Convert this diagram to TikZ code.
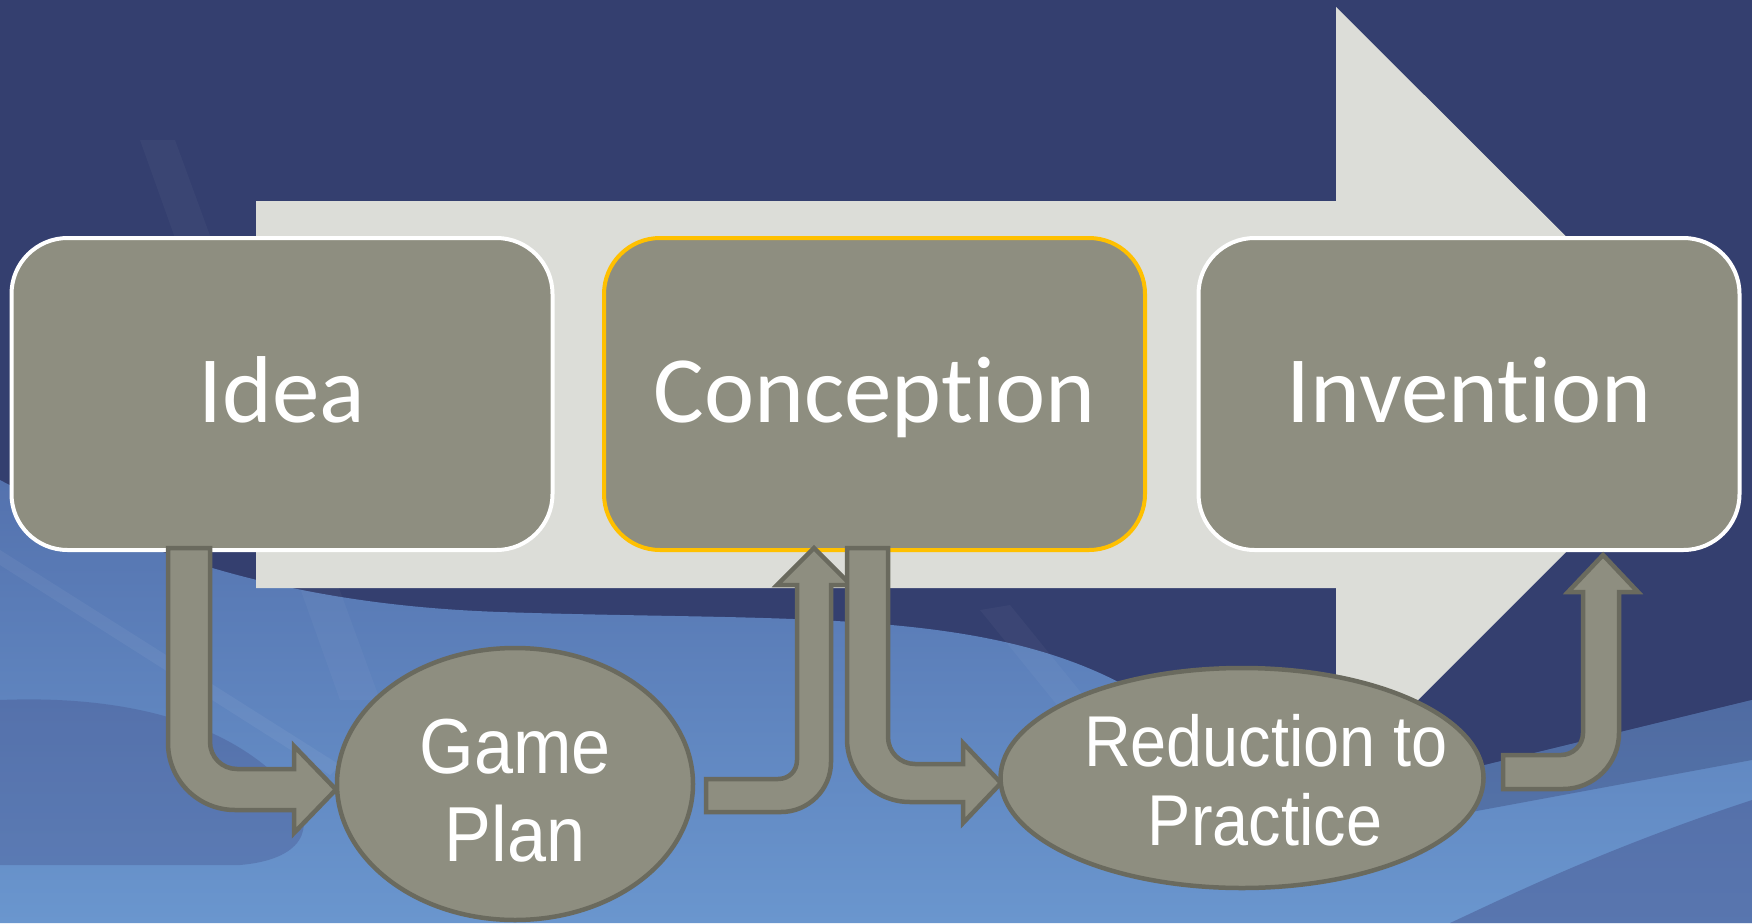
\documentclass[tikz,border=0pt]{standalone}
\usepackage{fontspec}
\setmainfont[Ligatures=NoCommon]{Carlito}
\newfontfamily\ovalfont[FakeStretch=0.9]{Liberation Sans}
\usetikzlibrary{shapes.geometric}
\definecolor{navy}{RGB}{52,63,111}
\definecolor{midblue}{RGB}{84,114,174}
\definecolor{lightblue}{RGB}{106,150,206}
\definecolor{darkwave}{RGB}{68,80,138}
\definecolor{arrowgray}{RGB}{220,221,216}
\definecolor{stepfill}{RGB}{142,142,128}
\definecolor{stepline}{RGB}{106,106,94}
\definecolor{gold}{RGB}{255,192,0}
\begin{document}
\begin{tikzpicture}[x=1pt,y=-1pt,
  stepbox/.style={rectangle, rounded corners=56pt, fill=stepfill, draw=white,
    line width=4pt, minimum width=541pt, minimum height=312pt,
    text height=70pt, text depth=14pt, text=white,
    font=\fontsize{95}{110}\selectfont},
  oval/.style={ellipse, fill=stepfill, draw=stepline, line width=4.5pt, inner sep=0pt},
  ovaltext/.style={anchor=base, text=white, inner sep=0pt},
  bentarrow/.style={fill=stepfill, draw=stepline, line width=4.5pt, line join=miter}]
\useasboundingbox (0,0) rectangle (1752,923);

% backdrop: navy sky with soft blue waves below
\fill[navy] (0,0) rectangle (1752,923);
\shade[top color=midblue, bottom color=lightblue]
  (0,480) .. controls (150,560) and (300,605) .. (500,612)
  .. controls (800,622) and (1000,605) .. (1150,700)
  .. controls (1220,760) and (1260,805) .. (1300,810)
  -- (1752,700) -- (1752,923) -- (0,923) -- cycle;
\fill[navy, opacity=.35] (1300,810) -- (1752,700) -- (1752,760) -- (1320,840) -- cycle;
\fill[darkwave, opacity=.35] (0,700) .. controls (120,695) and (230,720) .. (290,790)
  .. controls (320,830) and (300,860) .. (240,865) -- (0,865) -- cycle;
\fill[darkwave, opacity=.45] (1752,800) .. controls (1600,850) and (1500,900) .. (1450,923)
  -- (1752,923) -- cycle;
\fill[white, opacity=.05] (0,550) -- (0,565) -- (330,775) -- (340,765) -- cycle;
\fill[white, opacity=.035] (980,610) -- (1010,605) -- (1160,790) -- (1130,795) -- cycle;
\fill[white, opacity=.03] (140,140) -- (175,140) -- (380,700) -- (340,700) -- cycle;

% large process arrow behind the steps
\fill[arrowgray] (256,201) -- (1336,201) -- (1336,7) -- (1724,394)
  -- (1336,782) -- (1336,588) -- (256,588) -- cycle;

% main steps
\node[stepbox] (idea) at (282,394) {Idea};
\node[stepbox, draw=gold] (conc) at (874.5,394) {Conception};
\node[stepbox] (inv) at (1469,394) {Invention};

% bent arrows between the steps and the ovals
\path[bentarrow] (168,548) -- (210,548) -- (210,742)
  .. controls (210,757) and (222,769) .. (237,769) -- (294,769) -- (294,746)
  -- (336,789.5) -- (294,833) -- (294,810) -- (235,810)
  .. controls (198,810) and (168,780) .. (168,743) -- cycle;
\path[bentarrow] (706,779) -- (778,779) .. controls (789,779) and (797,771) .. (797,760)
  -- (797,585) -- (777,585) -- (814,548) -- (851,585) -- (831,585) -- (831,762)
  .. controls (831,790) and (808,812) .. (781,812) -- (706,812) -- cycle;
\path[bentarrow] (847,548) -- (888,548) -- (888,737)
  .. controls (888,752) and (900,764) .. (915,764) -- (963,764) -- (963,743)
  -- (1001,783) -- (963,823) -- (963,802) -- (910,802)
  .. controls (875,802) and (847,774) .. (847,739) -- cycle;
\path[bentarrow] (1503,755) -- (1561,755) .. controls (1573,755) and (1583,745) .. (1583,733)
  -- (1583,592) -- (1568,592) -- (1603,555) -- (1638,592) -- (1619,592) -- (1619,733)
  .. controls (1619,764) and (1594,789) .. (1563,789) -- (1503,789) -- cycle;

% intermediate ovals
\node[oval, minimum width=356pt, minimum height=272pt] (plan) at (515,784) {};
\node[oval, minimum width=483pt, minimum height=220pt] (rtp) at (1242,778) {};

\node[ovaltext, font=\ovalfont\fontsize{78}{88}\selectfont] (plan1) at (515,773) {Game};
\node[ovaltext, font=\ovalfont\fontsize{78}{88}\selectfont] (plan2) at (515,861) {Plan};
\node[ovaltext, font=\ovalfont\fontsize{72}{80}\selectfont] (rtp1) at (1266,766) {Reduction to};
\node[ovaltext, font=\ovalfont\fontsize{72}{80}\selectfont] (rtp2) at (1265,845) {Practice};
\end{tikzpicture}
\end{document}
